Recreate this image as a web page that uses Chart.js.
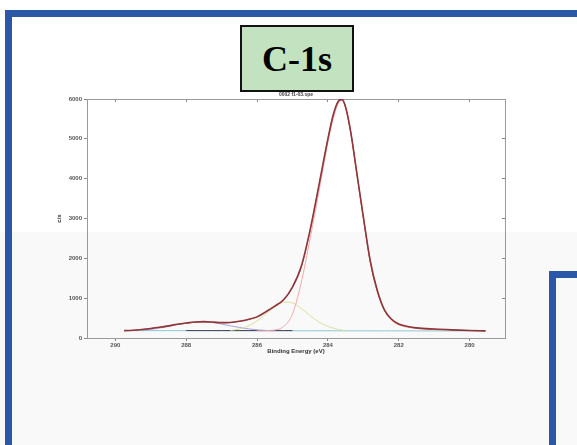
<!DOCTYPE html>
<html>
<head>
<meta charset="utf-8">
<script src="https://cdn.jsdelivr.net/npm/chart.js@4/dist/chart.umd.min.js"></script>
<style>
  html, body { margin: 0; padding: 0; background: #ffffff; }
  #wrap { position: relative; width: 577px; height: 445px; overflow: hidden; background: #ffffff; }
  #tint { position: absolute; left: 0; top: 232px; width: 577px; height: 213px; background: #f9f9f9; }
  .bar { position: absolute; background: #2a58a6; }
  #titlebox { position: absolute; left: 240px; top: 25px; width: 114px; height: 67px; background: #c3e2c0; border: 2px solid #111; box-sizing: border-box; display: flex; align-items: center; justify-content: center; font-family: "Liberation Serif", "DejaVu Serif", serif; font-weight: bold; font-size: 36px; color: #000; }
  #c { position: absolute; left: 0; top: 0; }
</style>
</head>
<body>
<div id="wrap">
  <div id="tint"></div>
  <div class="bar" style="left:5px; top:10px; width:572px; height:7px;"></div>
  <div class="bar" style="left:5px; top:10px; width:7px; height:435px;"></div>
  <div class="bar" style="left:549px; top:271px; width:28px; height:7px;"></div>
  <div class="bar" style="left:549px; top:271px; width:7px; height:174px;"></div>
  <canvas id="c" width="577" height="445"></canvas>
  <div id="titlebox">C-1s</div>
</div>
<script>
// ---- data ----
const energy = [289.75, 289.5, 289.25, 289.0, 288.75, 288.5, 288.25, 288.0, 287.75, 287.5,
                287.25, 287.0, 286.75, 286.5, 286.25, 286.0, 285.75, 285.5, 285.25, 285.0,
                284.75, 284.5, 284.25, 284.0, 283.85, 283.7, 283.6, 283.5, 283.35, 283.2,
                283.0, 282.8, 282.6, 282.4, 282.2, 282.0, 281.75, 281.5, 281.0, 280.5,
                280.0, 279.55];
const measured = [185, 195, 215, 240, 270, 305, 345, 375, 400, 410,
                  400, 385, 390, 420, 465, 530, 660, 800, 960, 1280,
                  1800, 2720, 3850, 5000, 5600, 5950, 5990, 5800, 5150, 4250,
                  3050, 1920, 1180, 700, 470, 350, 290, 255, 225, 205,
                  190, 180];
const fitSum = [180, 192, 212, 238, 268, 303, 342, 372, 396, 405,
                398, 384, 388, 418, 462, 525, 650, 790, 950, 1265,
                1780, 2700, 3820, 4980, 5590, 5940, 5975, 5790, 5140, 4230,
                3030, 1900, 1165, 690, 460, 345, 285, 250, 222, 203,
                188, 178];
const peakMain = [null, null, null, null, null, null, null, null, null, null,
                  null, null, null, null, null, 182, 186, 200, 290, 600,
                  1400, 2500, 3680, 4900, 5500, 5900, 5960, 5780, 5100, 4200,
                  3000, 1880, 1140, 680, 440, 330, 270, 240, 210, 195,
                  185, 180];
const peak2 = [null, null, null, null, null, null, null, null, null, null,
               null, null, 190, 225, 300, 430, 600, 780, 900, 880,
               740, 560, 400, 290, 250, 215, 195, 185, null, null,
               null, null, null, null, null, null, null, null, null, null,
               null, null];
const peak3 = [null, null, 190, 215, 250, 290, 335, 370, 395, 400,
               385, 350, 305, 265, 230, 205, 190, 182, null, null,
               null, null, null, null, null, null, null, null, null, null,
               null, null, null, null, null, null, null, null, null, null,
               null, null];
const background = [185, 185, 185, 185, 185, 184, 184, 184, 184, 184,
                    183, 183, 183, 183, 183, 182, 182, 182, 182, 182,
                    181, 181, 181, 181, 181, 180, 180, 180, 180, 180,
                    180, 179, 179, 179, 179, 179, 178, 178, 178, 178,
                    178, 178];
const baseDark = [null, null, null, null, null, null, null, 186, 186, 186,
                  186, 186, 186, 186, 186, 186, 186, 186, 186, 186,
                  null, null, null, null, null, null, null, null, null, null,
                  null, null, null, null, null, null, null, null, null, null,
                  null, null];
const xTickValues = [290, 288, 286, 284, 282, 280];
const yTickValues = [0, 1000, 2000, 3000, 4000, 5000, 6000];
const xTitle = "Binding Energy (eV)";
const yTitle = "c/s";
const plotTitle = "0002 f1-03.spe";

// ---- chart ----
function pts(arr) {
  return energy.map((e, i) => ({ x: e, y: arr[i] }));
}
function ds(label, arr, color, width) {
  return { label: label, data: pts(arr), borderColor: color, borderWidth: width,
           pointRadius: 0, fill: false, cubicInterpolationMode: 'monotone', spanGaps: false };
}
const tickFont = { family: "Liberation Sans, Arial, sans-serif", size: 6, weight: 'bold' };
const axisColor = '#9a9a9a';

new Chart(document.getElementById('c'), {
  type: 'line',
  data: {
    datasets: [
      ds('Measured', measured, 'rgb(140,55,60)', 1.6),
      ds('Fit', fitSum, 'rgb(232,110,100)', 1),
      ds('C-C', peakMain, 'rgb(236,160,160)', 0.9),
      ds('C-O', peak2, 'rgb(214,220,150)', 0.9),
      ds('C=O', peak3, 'rgb(160,150,215)', 0.9),
      ds('Background dark', baseDark, 'rgb(70,65,85)', 1),
      ds('Background', background, 'rgb(140,200,210)', 1)
    ]
  },
  options: {
    responsive: false,
    animation: false,
    events: [],
    layout: { padding: { left: 55, right: 72, top: 99, bottom: 89 } },
    plugins: {
      legend: { display: false },
      tooltip: { enabled: false },
      title: { display: false }
    },
    scales: {
      x: {
        type: 'linear', position: 'bottom', reverse: true, min: 279, max: 290.8,
        afterBuildTicks: s => { s.ticks = xTickValues.map(v => ({ value: v })); },
        afterFit: s => { s.height = 18; },
        ticks: { font: tickFont, color: '#555', padding: 1, maxRotation: 0, autoSkip: false,
                 callback: v => String(v) },
        grid: { drawOnChartArea: false, drawTicks: true, tickLength: 3, color: '#888' },
        border: { display: true, color: axisColor, width: 1 },
        title: { display: true, text: xTitle, font: tickFont, color: '#333', padding: { top: 0, bottom: 1 } }
      },
      x2: {
        type: 'linear', position: 'top', reverse: true, min: 279, max: 290.8,
        afterBuildTicks: s => { s.ticks = xTickValues.map(v => ({ value: v })); },
        afterFit: s => { s.height = 0; },
        ticks: { display: false },
        grid: { drawOnChartArea: false, drawTicks: true, tickLength: -3, color: '#888' },
        border: { display: true, color: axisColor, width: 1 },
        title: { display: false }
      },
      y: {
        type: 'linear', position: 'left', min: 0, max: 6000,
        afterBuildTicks: s => { s.ticks = yTickValues.map(v => ({ value: v })); },
        afterFit: s => { s.width = 32; },
        ticks: { font: tickFont, color: '#555', padding: 2, callback: v => String(v) },
        grid: { drawOnChartArea: false, drawTicks: true, tickLength: 3, color: '#888' },
        border: { display: true, color: axisColor, width: 1 },
        title: { display: true, text: yTitle, font: tickFont, color: '#333', padding: 1 }
      },
      y2: {
        type: 'linear', position: 'right', min: 0, max: 6000,
        afterBuildTicks: s => { s.ticks = yTickValues.map(v => ({ value: v })); },
        afterFit: s => { s.width = 0; },
        ticks: { display: false },
        grid: { drawOnChartArea: false, drawTicks: true, tickLength: -3, color: '#888' },
        border: { display: true, color: axisColor, width: 1 }
      }
    }
  },
  plugins: [{
    id: 'smallTitle',
    afterDraw(chart) {
      const ctx = chart.ctx;
      const a = chart.chartArea;
      ctx.save();
      ctx.font = "bold 5px Liberation Sans, Arial, sans-serif";
      ctx.fillStyle = '#444';
      ctx.textAlign = 'center';
      ctx.textBaseline = 'bottom';
      ctx.fillText(plotTitle, (a.left + a.right) / 2, a.top - 2);
      ctx.restore();
    }
  }]
});
</script>
</body>
</html>
